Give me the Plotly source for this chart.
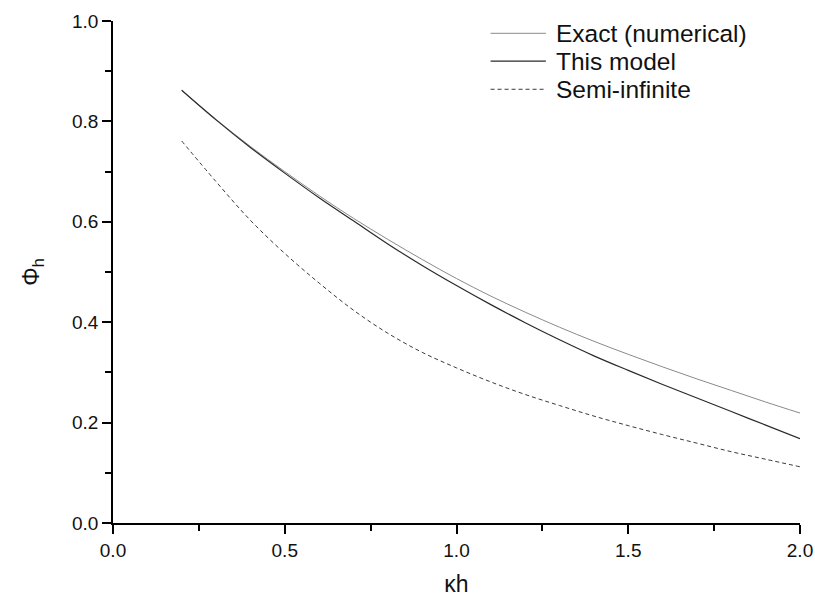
import plotly.graph_objects as go

kh = [0.2, 0.3, 0.4, 0.5, 0.6, 0.7, 0.8, 0.9, 1.0, 1.1, 1.2, 1.3, 1.4, 1.5, 1.6, 1.7, 1.8, 1.9, 2.0]
exact = [0.862, 0.804, 0.750, 0.700, 0.652, 0.607, 0.565, 0.525, 0.487, 0.452, 0.420, 0.390, 0.362, 0.336, 0.311, 0.287, 0.264, 0.241, 0.219]
model = [0.862, 0.803, 0.748, 0.697, 0.648, 0.602, 0.556, 0.513, 0.473, 0.435, 0.399, 0.365, 0.333, 0.304, 0.276, 0.249, 0.222, 0.195, 0.168]
semi = [0.761, 0.680, 0.603, 0.537, 0.478, 0.424, 0.378, 0.340, 0.309, 0.281, 0.256, 0.234, 0.213, 0.194, 0.176, 0.159, 0.142, 0.127, 0.112]

names = ["Exact (numerical)", "This model", "Semi-infinite"]
colors = ["#8a8a8a", "#2a2a2a", "#3a3a3a"]
dashes = ["solid", "solid", "4px,3px"]
widths = [1.0, 1.2, 1.0]
series = [exact, model, semi]

fig = go.Figure()
for name, ys, c, d, w in zip(names, series, colors, dashes, widths):
    fig.add_trace(go.Scatter(x=kh, y=ys, mode="lines", name=name,
                             line=dict(color=c, dash=d, width=w, shape="spline"),
                             showlegend=False))

# manual legend
leg_y = [0.9755, 0.920, 0.864]
for name, c, d, w, yy in zip(names, colors, dashes, widths, leg_y):
    fig.add_shape(type="line", xref="paper", yref="paper", x0=0.5496, x1=0.6301, y0=yy, y1=yy,
                  line=dict(color=c, dash=d, width=w))
    fig.add_annotation(xref="paper", yref="paper", x=0.6418, y=yy, text=name, showarrow=False,
                       xanchor="left", yanchor="middle",
                       font=dict(family="Liberation Sans, Arial", size=24.5, color="#111"))

axis_common = dict(showgrid=False, zeroline=False, showline=True, linecolor="black", linewidth=1.5,
                   ticks="outside", ticklen=9, tickwidth=1.5, tickcolor="black",
                   tickfont=dict(family="Liberation Sans, Arial", size=19, color="#111"),
                   mirror=False)

fig.update_xaxes(range=[0, 2], tickvals=[0, 0.5, 1.0, 1.5, 2.0], ticktext=["0.0", "0.5", "1.0", "1.5", "2.0"],
                 minor=dict(tickvals=[0.25, 0.75, 1.25, 1.75], ticks="outside", ticklen=6, tickwidth=1.5, tickcolor="black"),
                 title=dict(text="κh", font=dict(family="Liberation Sans, Arial", size=23, color="#111"), standoff=16),
                 **axis_common)
fig.update_yaxes(range=[0, 1], tickvals=[0, 0.2, 0.4, 0.6, 0.8, 1.0], ticktext=["0.0", "0.2", "0.4", "0.6", "0.8", "1.0"],
                 minor=dict(tickvals=[0.1, 0.3, 0.5, 0.7, 0.9], ticks="outside", ticklen=6, tickwidth=1.5, tickcolor="black"),
                 title=dict(text="Φ<sub>h</sub>", font=dict(family="Liberation Sans, Arial", size=23, color="#111"), standoff=26),
                 **axis_common)

fig.update_layout(width=815, height=601, margin=dict(l=113, r=15, t=21, b=78, autoexpand=False),
                  plot_bgcolor="white", paper_bgcolor="white")

fig.write_html("out.html")
